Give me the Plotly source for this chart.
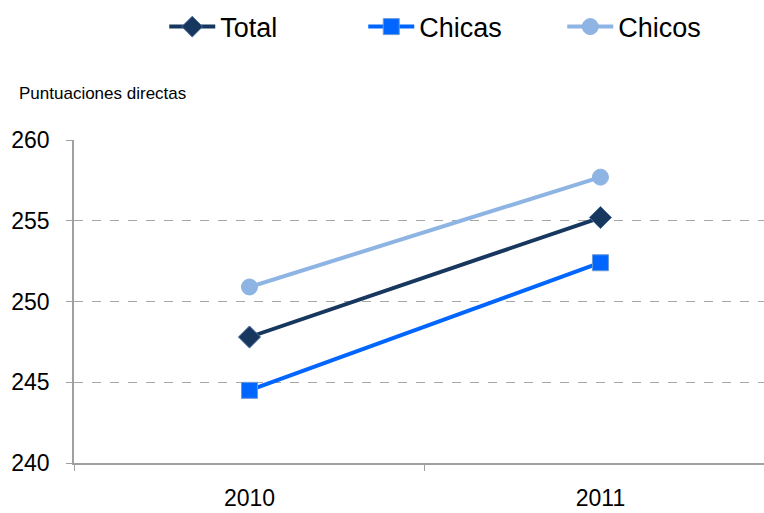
import plotly.graph_objects as go

years = ["2010", "2011"]
total = [247.8, 255.2]
chicas = [244.5, 252.4]
chicos = [250.9, 257.7]

FONT = "Liberation Sans, Arial, sans-serif"

fig = go.Figure()
fig.add_trace(go.Scatter(x=years, y=total, name="Total", mode="lines+markers",
                         line=dict(color="#17375E", width=4),
                         marker=dict(symbol="diamond", size=17, color="#17375E",
                                     line=dict(color="#4A6C9B", width=1))))
fig.add_trace(go.Scatter(x=years, y=chicas, name="Chicas", mode="lines+markers",
                         line=dict(color="#0066FF", width=4),
                         marker=dict(symbol="square", size=16, color="#0066FF",
                                     line=dict(color="#6A9BD6", width=1))))
fig.add_trace(go.Scatter(x=years, y=chicos, name="Chicos", mode="lines+markers",
                         line=dict(color="#8DB4E2", width=4),
                         marker=dict(symbol="circle", size=16, color="#8DB4E2",
                                     line=dict(color="#8DB4E2", width=1))))

fig.update_layout(
    width=764, height=513,
    margin=dict(l=74, r=0, t=140, b=50),
    paper_bgcolor="white", plot_bgcolor="white",
    font=dict(family=FONT, color="#000000"),
    showlegend=True,
    legend=dict(orientation="h", x=0.215, xref="container", xanchor="left",
                y=0.995, yref="container", yanchor="top",
                font=dict(size=27, family=FONT), entrywidth=138,
                itemwidth=46),
    xaxis=dict(type="category", range=[-0.5, 1.466], showgrid=False,
               showline=True, linecolor="#A0A0A0", linewidth=1.5,
               ticks="outside", tickson="boundaries", ticklen=6,
               tickcolor="#A0A0A0", tickfont=dict(size=23, family=FONT),
               ticklabelstandoff=14, zeroline=False),
    yaxis=dict(range=[240, 260], dtick=5, showgrid=True,
               gridcolor="#A6A6A6", griddash="dash", gridwidth=1,
               showline=True, linecolor="#A0A0A0", linewidth=1.5,
               ticks="outside", ticklen=6, tickcolor="#A0A0A0",
               tickfont=dict(size=23, family=FONT), zeroline=False,
               ticklabelstandoff=12),
    annotations=[dict(text="Puntuaciones directas", xref="paper", yref="paper",
                      x=-0.082, y=1.145, xanchor="left", yanchor="middle",
                      showarrow=False, font=dict(size=17, family=FONT))],
)

fig.write_html("out.html")
